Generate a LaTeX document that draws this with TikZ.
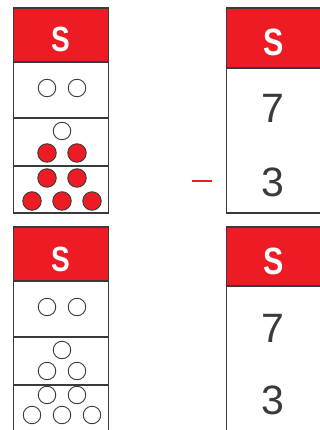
\documentclass[tikz,border=0pt]{standalone}
\usepackage{fontspec}
\setmainfont{Liberation Sans}
\definecolor{tabRed}{HTML}{ED1C24}
\definecolor{tabLine}{HTML}{3A3A3A}
\newcommand{\headS}{\scalebox{0.8}[1]{S}}
\begin{document}
\begin{tikzpicture}[x=1pt,y=-1pt]
\tikzset{
    tabHead/.style={rectangle,draw=tabLine,line width=1.2pt,fill=tabRed,text=white,minimum width=94.5pt,font=\fontsize{35}{35}\selectfont\bfseries,text height=34pt,text depth=0pt,inner sep=0pt},
    tabHeadBig/.style={tabHead,font=\fontsize{38}{38}\selectfont\bfseries,text height=35pt},
    tabCell/.style={rectangle,draw=tabLine,line width=1.2pt,fill=white,minimum width=94.5pt,inner sep=0pt},
    tabNum/.style={font=\fontsize{41}{41}\selectfont,text=tabLine,inner sep=0pt},
    dotOpen/.style={circle,draw=tabLine,line width=0.9pt,fill=white,minimum size=17.5pt,inner sep=0pt},
    dotRed/.style={circle,draw=tabLine,line width=0.9pt,fill=tabRed,minimum size=18.5pt,inner sep=0pt},
}
\useasboundingbox (0,0) rectangle (320,430);
\clip (0,0) rectangle (320,430);

% top left: counters
\node[tabHead,minimum height=54pt] (hTL) at (61,35) {\headS};
\node[tabCell,minimum height=56pt] (cTL1) at (61,90) {};
\node[tabCell,minimum height=48pt] (cTL2) at (61,142) {};
\node[tabCell,minimum height=47pt] (cTL3) at (61,189.5) {};
\node[dotOpen] (oTL1) at (47,88) {};
\node[dotOpen] (oTL2) at (77,88) {};
\node[dotOpen] (oTL3) at (62,131) {};
\node[dotRed] (rTL1) at (47,153) {};
\node[dotRed] (rTL2) at (77,153) {};
\node[dotRed] (rTL3) at (47,178) {};
\node[dotRed] (rTL4) at (77,178) {};
\node[dotRed] (rTL5) at (32,201) {};
\node[dotRed] (rTL6) at (62,201) {};
\node[dotRed] (rTL7) at (92,201) {};

% top right: numbers
\node[tabHeadBig,minimum height=60pt] (hTR) at (274,38) {\headS};
\node[tabCell,minimum height=145pt] (cTR) at (274,140.5) {};
\node[tabNum] (nTR7) at (273,108) {7};
\node[tabNum] (nTR3) at (273,182) {3};
\node[rectangle,fill=tabRed,minimum width=20pt,minimum height=2.2pt,inner sep=0pt] (minus) at (202,181) {};

% bottom left: counters
\node[tabHead,minimum height=54pt] (hBL) at (61,254) {\headS};
\node[tabCell,minimum height=56pt] (cBL1) at (61,309) {};
\node[tabCell,minimum height=48pt] (cBL2) at (61,361) {};
\node[tabCell,minimum height=50pt] (cBL3) at (61,410) {};
\node[dotOpen] (oBL1) at (47,307) {};
\node[dotOpen] (oBL2) at (77,307) {};
\node[dotOpen] (oBL3) at (62,350) {};
\node[dotOpen] (oBL4) at (47,371) {};
\node[dotOpen] (oBL5) at (77,371) {};
\node[dotOpen] (oBL6) at (47,395) {};
\node[dotOpen] (oBL7) at (77,395) {};
\node[dotOpen] (oBL8) at (32,415) {};
\node[dotOpen] (oBL9) at (62,415) {};
\node[dotOpen] (oBL10) at (92,415) {};

% bottom right: numbers
\node[tabHeadBig,minimum height=59pt] (hBR) at (274,256.5) {\headS};
\node[tabCell,minimum height=154pt] (cBR) at (274,363) {};
\node[tabNum] (nBR7) at (273,328) {7};
\node[tabNum] (nBR3) at (273,400) {3};
\end{tikzpicture}
\end{document}
